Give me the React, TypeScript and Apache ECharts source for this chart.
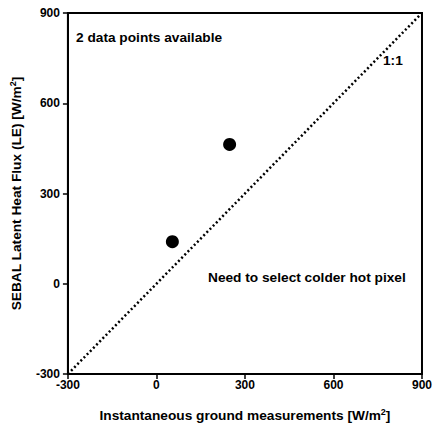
import React, { useEffect, useRef } from "react";
import * as echarts from "echarts";

const groundMeasured = [54, 248];
const sebalLE = [140, 463];
const oneToOneLine = [[-300, -300], [900, 900]];
const axisMin = -300;
const axisMax = 900;
const axisInterval = 300;
const xTitle = "Instantaneous ground measurements [W/m{sup|2}]";
const yTitle = "SEBAL Latent Heat Flux (LE) [W/m{sup|2}]";
const noteTopLeft = "2 data points available";
const noteBottom = "Need to select colder hot pixel";
const lineLabel = "1:1";

const FONT = "'Liberation Sans', Arial, sans-serif";

export default function App() {
  const ref = useRef<HTMLDivElement>(null);
  useEffect(() => {
    if (!ref.current) return;
    const chart = echarts.init(ref.current, undefined, { renderer: "svg" });
    const nameStyle = {
      color: "#000",
      fontFamily: FONT,
      fontWeight: "bold",
      fontSize: 13.7,
      lineHeight: 16,
      rich: {
        sup: {
          color: "#000",
          fontFamily: FONT,
          fontWeight: "bold",
          fontSize: 9,
          lineHeight: 16,
          verticalAlign: "top",
          padding: [0, 0, 8, 0],
        },
      },
    };
    const axisCommon = {
      type: "value",
      min: axisMin,
      max: axisMax,
      interval: axisInterval,
      nameLocation: "middle",
      splitLine: { show: false },
      axisLine: { show: true, onZero: false, lineStyle: { color: "#000", width: 2 } },
      axisTick: { show: true, length: 5, lineStyle: { color: "#000", width: 1.5 } },
      axisLabel: { color: "#000", fontFamily: FONT, fontWeight: "bold", fontSize: 12 },
      nameTextStyle: nameStyle,
    };
    chart.setOption({
      animation: false,
      backgroundColor: "#fff",
      grid: {
        left: 66,
        top: 13,
        width: 358,
        height: 361,
        show: true,
        borderColor: "#000",
        borderWidth: 2,
        containLabel: false,
      },
      xAxis: {
        ...axisCommon,
        name: xTitle,
        nameGap: 33,
        axisLabel: { ...axisCommon.axisLabel, margin: 5 },
      },
      yAxis: {
        ...axisCommon,
        name: yTitle,
        nameGap: 40,
        nameRotate: 90,
        axisLabel: { ...axisCommon.axisLabel, margin: 8 },
      },
      series: [
        {
          type: "line",
          data: oneToOneLine,
          showSymbol: false,
          symbol: "none",
          lineStyle: { color: "#000", width: 2.5, type: [2, 2.5] },
          z: 1,
        },
        {
          type: "scatter",
          data: groundMeasured.map((x, i) => [x, sebalLE[i]]),
          symbol: "circle",
          symbolSize: 13,
          itemStyle: { color: "#000", opacity: 1 },
          z: 3,
        },
      ],
      graphic: [
        {
          type: "text",
          left: 76,
          top: 30,
          style: { text: noteTopLeft, fill: "#000", font: `bold 13.7px ${FONT}` },
        },
        {
          type: "text",
          left: 208,
          top: 270,
          style: { text: noteBottom, fill: "#000", font: `bold 13.7px ${FONT}` },
        },
        {
          type: "text",
          left: 383,
          top: 53,
          style: { text: lineLabel, fill: "#000", font: `bold 13.7px ${FONT}` },
        },
      ],
    });
    return () => chart.dispose();
  }, []);
  return <div ref={ref} style={{ width: 435, height: 432, position: "absolute", left: 0, top: 0 }} />;
}
